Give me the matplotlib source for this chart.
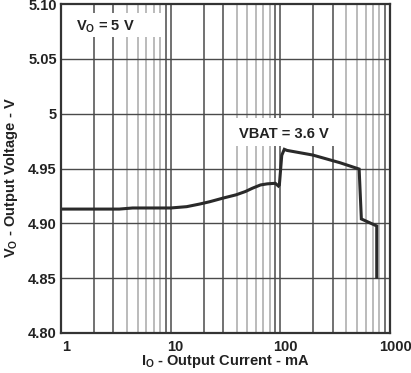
import matplotlib
matplotlib.use("Agg")
import matplotlib.pyplot as plt
from matplotlib.patches import Rectangle
from matplotlib.ticker import FixedLocator, NullFormatter
from matplotlib.transforms import ScaledTranslation

plt.rcParams['font.family'] = ['Liberation Sans', 'DejaVu Sans']
plt.rcParams['font.weight'] = 'bold'
plt.rcParams['mathtext.fontset'] = 'custom'
plt.rcParams['mathtext.rm'] = 'Liberation Sans:bold'
plt.rcParams['mathtext.it'] = 'Liberation Sans:bold'
plt.rcParams['mathtext.bf'] = 'Liberation Sans:bold'

# Data
current_mA = [1, 3.4, 4.5, 10, 14, 18.4, 22.7, 30, 39.5, 48, 55.6, 66, 76, 90,
              96, 98, 103, 108.7, 115, 197, 349, 523, 548, 757, 757]
vout_V = [4.913, 4.913, 4.914, 4.914, 4.9152, 4.9176, 4.9197, 4.923, 4.926, 4.929,
          4.932, 4.935, 4.936, 4.9365, 4.934, 4.935, 4.962, 4.9675, 4.9665, 4.9623,
          4.9553, 4.9495, 4.904, 4.8976, 4.8508]

x_ticks = [1, 10, 100, 1000]
x_tick_labels = ["1", "10", "100", "1000"]
y_ticks = [4.80, 4.85, 4.90, 4.95, 5.00, 5.05, 5.10]
y_tick_labels = ["4.80", "4.85", "4.90", "4.95", "5", "5.05", "5.10"]

fig = plt.figure(figsize=(4.11, 3.73), dpi=100)
ax = fig.add_axes([61/411, 40/373, 329/411, 329/373])
ax.set_xscale('log')
ax.set_xlim(1, 1000)
ax.set_ylim(4.80, 5.10)

# grid
dark = '#4a4a4a'
light = '#a8a8a8'
for dec in [1, 10, 100]:
    for m in range(2, 10):
        c = dark if m in (2, 3, 9) else light
        ax.axvline(dec * m, color=c, lw=1.1, zorder=1)
    if dec > 1:
        ax.axvline(dec, color=dark, lw=1.1, zorder=1)
for yv in y_ticks[1:-1]:
    ax.axhline(yv, color=dark, lw=1.0, zorder=1)

# label boxes
ax.add_patch(Rectangle((0.012, 0.900), 0.298, 0.073, transform=ax.transAxes,
                       facecolor='white', edgecolor='none', zorder=2))
ax.add_patch(Rectangle((0.508, 0.567), 0.355, 0.086, transform=ax.transAxes,
                       facecolor='white', edgecolor='none', zorder=2))

ax.plot(current_mA, vout_V, color='#2a2a2a', lw=2.2, zorder=3,
        solid_joinstyle='miter')

ax.text(2.52, 5.0795, r"V$_{\rm O}$ = 5 V", ha='center', va='center',
        fontsize=10.5, fontweight='bold', color='#222222', zorder=4)
ax.text(108, 4.9812, "VBAT = 3.6 V", ha='center', va='center',
        fontsize=10.5, fontweight='bold', color='#222222', zorder=4)

ax.xaxis.set_major_locator(FixedLocator(x_ticks))
ax.set_xticklabels(x_tick_labels)
ax.xaxis.set_minor_formatter(NullFormatter())
ax.set_yticks(y_ticks)
ax.set_yticklabels(y_tick_labels)
ax.tick_params(axis='both', which='both', length=0, labelsize=10.5,
               colors='#222222')
ax.tick_params(axis='x', pad=5)
ax.tick_params(axis='y', pad=3)
shift = ScaledTranslation(5/100, 0, fig.dpi_scale_trans)
for lab in ax.get_xticklabels():
    lab.set_fontweight('bold')
    lab.set_transform(lab.get_transform() + shift)
for lab in ax.get_yticklabels():
    lab.set_fontweight('bold')

for s in ax.spines.values():
    s.set_color('#333333')
    s.set_linewidth(1.6)
    s.set_zorder(5)

ax.set_xlabel(r"I$_{\rm O}$ - Output Current - mA", fontsize=10.5,
              fontweight='bold', color='#222222', labelpad=-1)
ax.set_ylabel(r"V$_{\rm O}$ - Output Voltage - V", fontsize=10.5,
              fontweight='bold', color='#222222')
ax.yaxis.set_label_coords(-0.125, 0.471)

fig.savefig("out.png", dpi=100)
